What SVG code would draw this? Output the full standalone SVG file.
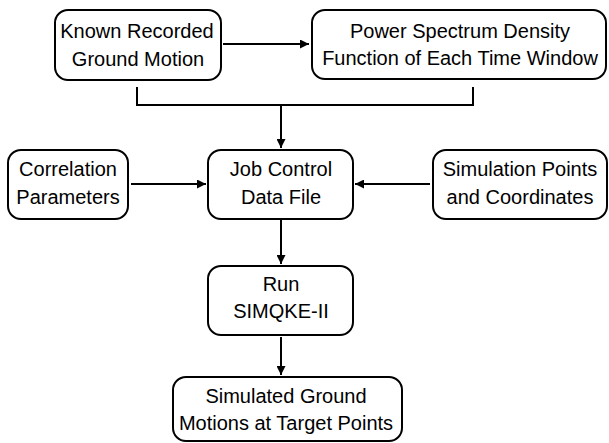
<svg xmlns="http://www.w3.org/2000/svg" width="609" height="443" viewBox="0 0 609 443">
<style>
.box{fill:#fff;stroke:#000;stroke-width:2}
.t{font-family:"Liberation Sans",Arial,sans-serif;font-size:20px;fill:#000;text-anchor:middle}
.c{fill:none;stroke:#000;stroke-width:2}
</style>
<defs>
<marker id="ah" viewBox="0 0 10 10" refX="10" refY="5" markerWidth="4.5" markerHeight="4.5" orient="auto" markerUnits="strokeWidth">
<path d="M0,0 L10,5 L0,10 z" fill="#000"/>
</marker>
</defs>
<rect width="609" height="443" fill="#fff"/>
<g id="connectors">
<line class="c" x1="223" y1="44" x2="309" y2="44" marker-end="url(#ah)"/>
<polyline class="c" points="137,87 137,105 473,105 473,87"/>
<line class="c" x1="281" y1="105" x2="281" y2="148" marker-end="url(#ah)"/>
<line class="c" x1="131" y1="184" x2="206" y2="184" marker-end="url(#ah)"/>
<line class="c" x1="430" y1="184" x2="355" y2="184" marker-end="url(#ah)"/>
<line class="c" x1="281" y1="220" x2="281" y2="264" marker-end="url(#ah)"/>
<line class="c" x1="281" y1="337" x2="281" y2="375" marker-end="url(#ah)"/>
</g>
<g id="known">
<rect class="box" x="55" y="10" width="166" height="70" rx="13"/>
<text class="t" x="137" y="38">Known Recorded</text>
<text class="t" x="138" y="66">Ground Motion</text>
</g>
<g id="psd">
<rect class="box" x="312" y="10" width="294" height="69" rx="13"/>
<text class="t" x="460" y="38">Power Spectrum Density</text>
<text class="t" x="460" y="65">Function of Each Time Window</text>
</g>
<g id="corr">
<rect class="box" x="8" y="150" width="120" height="69" rx="13"/>
<text class="t" x="68" y="176">Correlation</text>
<text class="t" x="68" y="204">Parameters</text>
</g>
<g id="job">
<rect class="box" x="208" y="150" width="145" height="69" rx="13"/>
<text class="t" x="281" y="176">Job Control</text>
<text class="t" x="281" y="204">Data File</text>
</g>
<g id="sim">
<rect class="box" x="433" y="150" width="174" height="69" rx="13"/>
<text class="t" x="520" y="176">Simulation Points</text>
<text class="t" x="520" y="204">and Coordinates</text>
</g>
<g id="run">
<rect class="box" x="208" y="266" width="145" height="69" rx="13"/>
<text class="t" x="281" y="291">Run</text>
<text class="t" x="281" y="318">SIMQKE-II</text>
</g>
<g id="out">
<rect class="box" x="173" y="377" width="229" height="64" rx="13"/>
<text class="t" x="286" y="403">Simulated Ground</text>
<text class="t" x="286" y="430">Motions at Target Points</text>
</g>
</svg>
